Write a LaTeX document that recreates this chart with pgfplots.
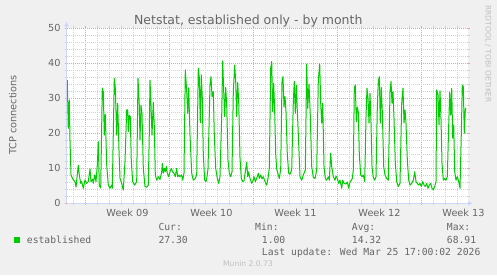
\documentclass[border=0pt]{standalone}
\usepackage{pgfplots}
\pgfplotsset{compat=1.18}
\usepackage{fontspec}
\setmainfont{DejaVu Sans}
\newfontfamily\mono{DejaVu Sans Mono}
\usetikzlibrary{arrows.meta}
\definecolor{bgcol}{HTML}{F0F0F0}
\definecolor{fontcol}{HTML}{666666}
\definecolor{axiscol}{HTML}{CFD6F8}
\definecolor{mingrid}{HTML}{D2D2D2}
\definecolor{majgrid}{HTML}{E8A4A4}
\definecolor{linecol}{HTML}{00CC00}
\definecolor{wmcol}{HTML}{C0C0C0}
\newcommand{\fs}{\fontsize{9.72bp}{11bp}\selectfont}
\pgfplotstableread{
x y
-1.517 35.2
-1.433 21.4
-1.35 29.5
-1.292 18
-1.208 8.1
-1.15 7.6
-1.017 6.7
-0.875 6.2
-0.792 4.6
-0.6 10.9
-0.517 8.1
-0.4 5.7
-0.317 6.2
-0.183 4.3
-0.042 6.7
0.1 5.7
0.233 6.2
0.375 9.8
0.458 6.2
0.6 6.9
0.65 5.7
0.767 8.1
0.875 6.2
0.983 10.9
1.067 17.6
1.15 5.0
1.267 4.4
1.4 32.9
1.483 31.9
1.567 19.5
1.65 25.4
1.767 10.9
1.9 5.2
2.042 4.3
2.183 5.2
2.233 4.3
2.317 20
2.4 35.7
2.483 32.9
2.6 19.5
2.683 28.6
2.792 15
2.875 7.2
3.017 5.7
3.15 3.8
3.292 12
3.433 26.7
3.517 26.7
3.567 20.5
3.65 25.2
3.733 24.7
3.817 12
3.933 6.2
4.1 5.2
4.267 6.2
4.375 35.7
4.483 28
4.542 18.1
4.625 28
4.708 25.7
4.817 10
4.958 4.8
5.1 4.6
5.233 5.2
5.317 20
5.375 35.2
5.458 28
5.542 19.5
5.65 28.9
5.733 22
5.817 8.1
5.933 6.6
6.067 7.6
6.208 6.8
6.35 9.0
6.4 11.4
6.483 8.6
6.567 10
6.65 9.0
6.733 10.5
6.817 8.6
6.933 7.6
7.042 9.0
7.15 10
7.267 9
7.375 8.6
7.483 7.6
7.6 10
7.683 7.6
7.792 8.1
7.875 7.6
8.017 8.1
8.1 6.6
8.208 8.6
8.317 38.1
8.433 32
8.517 25.7
8.6 33
8.708 19.5
8.85 8.6
8.983 6.6
9.125 7
9.267 8.1
9.4 38.6
9.483 36
9.567 23
9.65 36.7
9.733 30
9.817 14
9.933 6.6
10.042 6.2
10.1 7
10.208 9.8
10.375 33.8
10.458 36.2
10.542 30.5
10.65 31.9
10.733 19.5
10.85 10
10.983 7.1
11.1 5.7
11.208 7.6
11.35 25
11.433 40.7
11.517 31.9
11.6 24.8
11.683 33.1
11.767 28
11.875 12.3
11.983 8.6
12.1 7.6
12.208 9.0
12.317 31.9
12.433 39.5
12.517 34.8
12.6 24.8
12.683 34.5
12.767 29
12.875 13
12.983 7.1
13.1 6.2
13.208 6.4
13.317 9.0
13.433 11.7
13.517 7.6
13.6 9.0
13.708 7.1
13.85 5.7
13.933 6.2
14.042 7.6
14.15 6.2
14.267 7.1
14.4 8.6
14.483 7.1
14.6 8.1
14.708 7.0
14.817 7.6
14.958 6.2
15.1 5.2
15.208 7.1
15.317 10
15.433 38.6
15.517 40.5
15.6 26.2
15.683 34.3
15.767 26
15.85 14
15.933 9.8
16.067 8.1
16.15 7.1
16.267 9.8
16.375 34.8
16.458 36.2
16.542 27.5
16.625 30.5
16.708 26.2
16.817 14
16.933 8.6
17.042 8.3
17.183 9.5
17.317 29
17.4 34.8
17.483 25.7
17.567 33.8
17.65 26.5
17.767 17
17.875 7.6
18.017 6.6
18.15 8.1
18.317 9.5
18.433 39.8
18.517 27.1
18.625 34
18.733 25
18.85 10.5
18.983 7.4
19.125 7.1
19.267 9.5
19.4 35.2
19.517 39.8
19.6 28.6
19.683 22.9
19.767 28.6
19.875 10.5
19.983 7.1
20.1 6.6
20.233 7.6
20.317 6.6
20.433 14.3
20.517 10.5
20.65 7.6
20.792 6.6
20.875 7.8
20.983 7.1
21.1 5.7
21.208 6.6
21.35 4.3
21.433 6.6
21.542 5.7
21.708 5.5
21.817 6.1
21.933 4.3
22.042 6.1
22.15 6.6
22.233 7.1
22.317 9.5
22.4 32.9
22.483 33.8
22.567 23.3
22.65 27.5
22.733 26
22.817 14
22.933 8.1
23.042 7.6
23.15 8.1
23.267 6.2
23.375 24.8
23.458 32.9
23.542 30
23.625 22.9
23.708 31.4
23.792 22.9
23.875 10.5
23.983 7.4
24.1 6.6
24.208 7.6
24.317 27.5
24.4 34.8
24.483 36.2
24.567 22.9
24.65 33.1
24.733 26.2
24.85 10.5
24.958 8.1
25.1 7.1
25.233 6.6
25.375 31.9
25.458 34.8
25.542 28.6
25.625 31.9
25.708 24.3
25.817 11.5
25.933 6.2
26.067 4.8
26.208 5.7
26.35 28.6
26.458 32.9
26.542 22.9
26.625 26.7
26.708 22.9
26.817 12.4
26.933 6.6
27.042 5.2
27.183 5.7
27.317 6.6
27.433 9.0
27.542 6.2
27.65 5.7
27.767 5.2
27.875 5.7
27.983 4.8
28.1 6.2
28.208 5.2
28.317 4.8
28.433 5.7
28.542 4.3
28.65 5.2
28.767 5.7
28.875 4.3
28.983 3.8
29.1 4.8
29.208 6.2
29.267 32.4
29.375 31
29.458 22.4
29.542 32.1
29.625 24
29.708 11.4
29.817 6.6
29.933 7.1
30.042 6.6
30.15 7.6
30.267 22.4
30.35 31.8
30.433 25.2
30.517 32.8
30.6 18.6
30.683 22.4
30.767 9.0
30.875 6.6
30.983 7.6
31.1 6.2
31.208 4.3
31.317 20
31.4 33.8
31.483 33.3
31.567 20
31.65 26.7
31.7 27.3
}\established
\begin{document}
\begin{tikzpicture}[x=1bp,y=1bp]
\useasboundingbox (0,0) rectangle (497,275);
\fill[bgcol] (0,0) rectangle (497,275);
\begin{axis}[
  at={(66.5bp,71.7bp)}, anchor=south west,
  scale only axis, width=401.5bp, height=175bp,
  xmin=-1.583, xmax=31.875, ymin=0, ymax=50,
  axis background/.style={fill=white},
  axis line style={draw=none},
  xtick={0,7,14,21,28},
  minor xtick={-1,1,2,3,4,5,6,8,9,10,11,12,13,15,16,17,18,19,20,22,23,24,25,26,27,29,30,31},
  xticklabels={},
  ytick={0,10,20,30,40,50},
  minor y tick num=4,
  grid=both,
  major grid style={color=majgrid, dash pattern=on 1bp off 1bp, line width=0.6bp},
  minor grid style={color=mingrid, dash pattern=on 1bp off 1bp, line width=0.6bp},
  tick align=outside,
  major tick length=2bp, minor tick length=2bp,
  major tick style={color=majgrid, line width=0.6bp},
  minor tick style={color=mingrid, line width=0.6bp},
  /pgf/number format/assume math mode=true,
  yticklabel style={font=\fs, color=fontcol, anchor=east, inner sep=0pt, xshift=-3.8bp},
  clip=false,
]
\addplot[color=linecol, line width=1bp, line join=round] table[x=x,y=y] {\established};
\draw[axiscol, line width=1bp, -{Latex[length=5bp,width=5bp]}] (rel axis cs:0,0) -- ([yshift=7bp]rel axis cs:0,1);
\draw[axiscol, line width=1bp, -{Latex[length=5bp,width=5bp]}] (rel axis cs:0,0) -- ([xshift=5bp]rel axis cs:1,0);
\node[font=\fs, text=fontcol, anchor=base, inner sep=0pt] at ([yshift=-12.7bp]axis cs:3.5,0) {Week 09};
\node[font=\fs, text=fontcol, anchor=base, inner sep=0pt] at ([yshift=-12.7bp]axis cs:10.5,0) {Week 10};
\node[font=\fs, text=fontcol, anchor=base, inner sep=0pt] at ([yshift=-12.7bp]axis cs:17.5,0) {Week 11};
\node[font=\fs, text=fontcol, anchor=base, inner sep=0pt] at ([yshift=-12.7bp]axis cs:24.5,0) {Week 12};
\node[font=\fs, text=fontcol, anchor=base, inner sep=0pt] at ([yshift=-12.7bp]axis cs:31.5,0) {Week 13};
\end{axis}
\node[font=\fontsize{12.5bp}{14bp}\selectfont, text=fontcol, anchor=base, inner sep=0pt] at (248.3,251) {Netstat, established only - by month};
\node[font=\fs, text=fontcol, rotate=90, inner sep=0pt] at (12.7,160) {TCP connections};
\node[font=\fontsize{7.6bp}{9bp}\selectfont, text=wmcol, rotate=-90, anchor=base west, inner sep=0pt] at (485.5,270) {RRDTOOL / TOBI OETIKER};
\fill[linecol] (14,32.3) rectangle (20,37.7);
\begin{scope}[every node/.style={font=\mono\fs, text=fontcol, anchor=base west, inner sep=0pt}]
\node at (26.7,31.7) {established};
\node at (158.3,44.3) {Cur:};
\node at (158.3,31.7) {27.30};
\node at (255,44.3) {Min:};
\node at (261.7,31.7) {1.00};
\node at (351.7,44.3) {Avg:};
\node at (351.7,31.7) {14.32};
\node at (446.7,44.3) {Max:};
\node at (446.7,31.7) {68.91};
\node at (261.7,20) {Last update: Wed Mar 25 17:00:02 2026};
\end{scope}
\node[font=\fontsize{7.6bp}{9bp}\selectfont, text=wmcol, anchor=base, inner sep=0pt] at (248,8.3) {Munin 2.0.73};
\end{tikzpicture}
\end{document}
